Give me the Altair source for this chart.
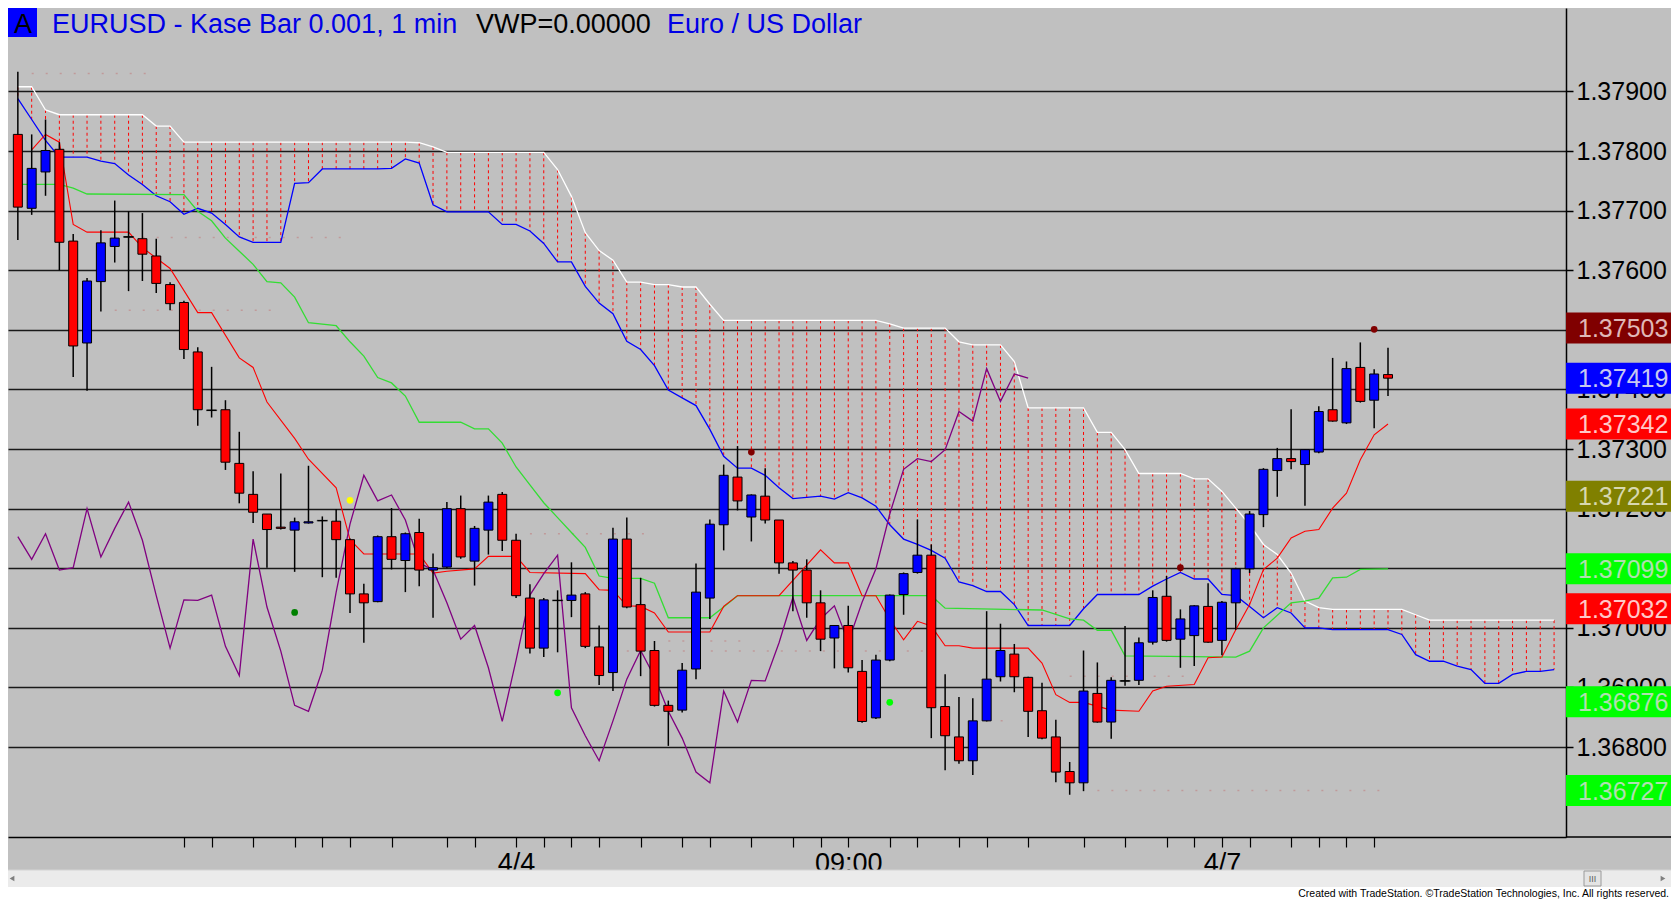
import altair as alt
import pandas as pd

# ---------------- data ----------------
opens = [1.37828,1.37704,1.37765,1.37803,1.37649,1.37478,1.37581,1.37640,1.37656,1.37653,
 1.37624,1.37576,1.37546,1.37463,1.37365,1.37366,1.37276,1.37224,1.37191,1.37169,
 1.37164,1.37176,1.37180,1.37179,1.37148,1.37057,1.37044,1.37153,1.37113,1.37160,
 1.37097,1.37102,1.37200,1.37112,1.37164,1.37224,1.37147,1.37050,1.36966,1.37046,
 1.37046,1.37057,1.36968,1.36925,1.37149,1.37039,1.36962,1.36870,1.36862,1.36931,
 1.37050,1.37173,1.37253,1.37186,1.37221,1.37181,1.37109,1.37097,1.37042,1.36983,
 1.37004,1.36927,1.36849,1.36946,1.37056,1.37093,1.37122,1.36868,1.36817,1.36777,
 1.36844,1.36918,1.36956,1.36917,1.36861,1.36817,1.36759,1.36740,1.36890,1.36842,
 1.36911,1.36912,1.36976,1.37053,1.36981,1.36987,1.37036,1.36979,1.37042,1.37099,
 1.37190,1.37264,1.37284,1.37274,1.37295,1.37366,1.37344,1.37437,1.37382,1.37425]
highs = [1.37933,1.37828,1.37853,1.37815,1.37661,1.37587,1.37667,1.37717,1.37699,1.37696,
 1.37653,1.37580,1.37549,1.37471,1.37438,1.37382,1.37329,1.37263,1.37191,1.37259,
 1.37185,1.37272,1.37187,1.37199,1.37150,1.37074,1.37155,1.37201,1.37160,1.37183,
 1.37125,1.37211,1.37222,1.37171,1.37222,1.37228,1.37158,1.37073,1.37050,1.37063,
 1.37110,1.37060,1.37004,1.37168,1.37185,1.37084,1.36978,1.36878,1.36941,1.37108,
 1.37182,1.37274,1.37305,1.37224,1.37268,1.37181,1.37112,1.37115,1.37063,1.37004,
 1.37037,1.36946,1.36955,1.37056,1.37093,1.37182,1.37140,1.36922,1.36884,1.36882,
 1.37028,1.37007,1.36973,1.36918,1.36908,1.36846,1.36775,1.36962,1.36942,1.36917,
 1.37003,1.36984,1.37063,1.37087,1.37031,1.37038,1.37075,1.37045,1.37101,1.37196,
 1.37268,1.37302,1.37367,1.37300,1.37372,1.37453,1.37447,1.37479,1.37434,1.37470]
lows = [1.37651,1.37693,1.37725,1.37600,1.37421,1.37398,1.37531,1.37613,1.37565,1.37582,
 1.37562,1.37533,1.37451,1.37339,1.37353,1.37265,1.37209,1.37176,1.37101,1.37165,
 1.37094,1.37175,1.37085,1.37084,1.37025,1.36975,1.37043,1.37098,1.37060,1.37070,
 1.37017,1.37100,1.37116,1.37071,1.37123,1.37129,1.37050,1.36957,1.36951,1.36959,
 1.37018,1.36966,1.36904,1.36894,1.37033,1.36919,1.36868,1.36802,1.36858,1.36914,
 1.37015,1.37130,1.37197,1.37145,1.37175,1.37091,1.37028,1.37017,1.36961,1.36932,
 1.36925,1.36841,1.36847,1.36944,1.37022,1.37091,1.36815,1.36761,1.36772,1.36753,
 1.36843,1.36910,1.36892,1.36817,1.36813,1.36741,1.36720,1.36726,1.36841,1.36814,
 1.36903,1.36904,1.36972,1.36977,1.36933,1.36936,1.36975,1.36954,1.36997,1.37092,
 1.37169,1.37220,1.37266,1.37205,1.37293,1.37346,1.37342,1.37378,1.37335,1.37389]
closes = [1.37706,1.37771,1.37801,1.37647,1.37473,1.37582,1.37646,1.37654,1.37656,1.37627,
 1.37578,1.37544,1.37467,1.37366,1.37365,1.37278,1.37226,1.37194,1.37165,1.37167,
 1.37178,1.37178,1.37180,1.37148,1.37057,1.37042,1.37153,1.37115,1.37158,1.37097,
 1.37101,1.37200,1.37119,1.37167,1.37211,1.37147,1.37054,1.36966,1.37047,1.37046,
 1.37055,1.36969,1.36920,1.37149,1.37035,1.36961,1.36870,1.36860,1.36929,1.37060,
 1.37174,1.37256,1.37213,1.37223,1.37181,1.37109,1.37097,1.37042,1.36981,1.37004,
 1.36933,1.36843,1.36946,1.37055,1.37091,1.37122,1.36866,1.36819,1.36777,1.36844,
 1.36914,1.36962,1.36918,1.36860,1.36815,1.36758,1.36740,1.36894,1.36842,1.36912,
 1.36911,1.36975,1.37051,1.36979,1.37015,1.37037,1.36976,1.37043,1.37099,1.37191,
 1.37266,1.37284,1.37279,1.37299,1.37363,1.37347,1.37435,1.37380,1.37426,1.37419]

# cloud boundaries, one value per bar (0..111)
white_line = [1.37908,1.37908,1.37869,1.37861,1.37861,1.37861,1.37861,1.37861,1.37861,1.37861,
 1.37842,1.37842,1.37815,1.37815,1.37815,1.37815,1.37815,1.37815,1.37815,1.37815,
 1.37815,1.37815,1.37815,1.37815,1.37815,1.37815,1.37815,1.37815,1.37815,1.37814,
 1.37807,1.37798,1.37798,1.37798,1.37798,1.37798,1.37798,1.37798,1.37798,1.37769,
 1.37724,1.37663,1.37633,1.37617,1.37580,1.37580,1.37576,1.37576,1.37572,1.37572,
 1.37543,1.37516,1.37516,1.37516,1.37516,1.37516,1.37516,1.37516,1.37516,1.37516,
 1.37516,1.37516,1.37516,1.37510,1.37503,1.37503,1.37503,1.37503,1.37480,1.37475,
 1.37475,1.37475,1.37447,1.37369,1.37369,1.37369,1.37369,1.37369,1.37328,1.37328,
 1.37299,1.37259,1.37259,1.37259,1.37259,1.37250,1.37250,1.37229,1.37201,1.37173,
 1.37140,1.37123,1.37092,1.37045,1.37034,1.37031,1.37031,1.37031,1.37031,1.37031,
 1.37031,1.37022,1.37013,1.37013,1.37013,1.37013,1.37013,1.37013,1.37013,1.37013,
 1.37013,1.37013]
blue_line = [1.37888,1.37853,1.37818,1.37790,1.37790,1.37790,1.37783,1.37779,1.37760,1.37744,
 1.37725,1.37715,1.37694,1.37704,1.37696,1.37677,1.37656,1.37647,1.37647,1.37647,
 1.37746,1.37747,1.37770,1.37770,1.37770,1.37770,1.37770,1.37771,1.37787,1.37780,
 1.37710,1.37698,1.37698,1.37698,1.37698,1.37677,1.37677,1.37666,1.37645,1.37614,
 1.37614,1.37573,1.37545,1.37527,1.37481,1.37467,1.37440,1.37399,1.37386,1.37373,
 1.37333,1.37288,1.37268,1.37268,1.37256,1.37235,1.37217,1.37219,1.37221,1.37216,
 1.37227,1.37218,1.37204,1.37173,1.37149,1.37140,1.37130,1.37117,1.37077,1.37071,
 1.37061,1.37061,1.37039,1.37004,1.37004,1.37004,1.37004,1.37032,1.37056,1.37056,
 1.37056,1.37056,1.37070,1.37082,1.37093,1.37082,1.37082,1.37056,1.37054,1.37036,
 1.37017,1.37034,1.37025,1.37000,1.37000,1.36997,1.36997,1.36997,1.36997,1.36997,
 1.36989,1.36955,1.36944,1.36944,1.36936,1.36930,1.36907,1.36907,1.36922,1.36927,
 1.36927,1.36930]

# red line vertices
red_idx = [1,2,3,4,5,8,9,11,13,14,16,17,18,20,21,23,24,25,29,30,31,33,34,36,37,41,42,43,44,45,46,47,
 50,51,52,55,58,59,60,61,62,63,64,65,66,67,68,69,73,74,75,76,77,79,81,82,83,85,86,87,88,89,90,91,92,
 93,94,95,96,97,98,99]
red_val = [1.37802,1.37828,1.37815,1.37677,1.37664,1.37664,1.37638,1.37603,1.37529,1.37529,1.37453,
 1.37437,1.37379,1.37318,1.37283,1.37235,1.37148,1.37124,1.37124,1.37092,1.37095,1.37099,1.37120,
 1.37120,1.37093,1.37091,1.37064,1.37063,1.37037,1.37036,1.37025,1.36993,1.36993,1.37036,1.37054,
 1.37054,1.37131,1.37109,1.37109,1.37054,1.37054,1.37014,1.36980,1.37011,1.37003,1.36970,1.36970,
 1.36966,1.36966,1.36941,1.36888,1.36875,1.36875,1.36862,1.36860,1.36894,1.36902,1.36905,1.36950,
 1.36951,1.36997,1.37039,1.37098,1.37117,1.37151,1.37162,1.37165,1.37201,1.37226,1.37282,1.37324,
 1.37342]

# green line vertices
green_idx = [0,3,4,5,12,13,14,15,16,17,18,19,20,21,23,24,25,26,27,28,29,32,33,34,35,36,37,38,39,40,
 41,42,43,45,46,47,50,51,52,66,67,74,76,77,78,79,80,88,89,90,92,93,94,95,96,97,99]
green_val = [1.37744,1.37744,1.37738,1.37728,1.37727,1.37699,1.37683,1.37654,1.37632,1.37610,1.37581,
 1.37579,1.37555,1.37512,1.37507,1.37480,1.37456,1.37420,1.37411,1.37389,1.37345,1.37345,1.37334,
 1.37334,1.37310,1.37270,1.37240,1.37210,1.37185,1.37160,1.37135,1.37087,1.37083,1.37083,1.37075,
 1.37017,1.37017,1.37035,1.37054,1.37054,1.37033,1.37030,1.37015,1.37013,1.36996,1.36996,1.36953,
 1.36951,1.36961,1.37000,1.37042,1.37045,1.37050,1.37084,1.37085,1.37098,1.37099]

# lagging line = closes plotted 26 bars back
lag = 26

# marker dots
dot_idx = [20, 24, 39, 53, 63, 84, 98]
dot_val = [1.37026, 1.37214, 1.36891, 1.37295, 1.36875, 1.37101, 1.37501]
dot_col = ["#008000", "#ffff00", "#00ff00", "#800000", "#00ff00", "#800000", "#800000"]

# faint dotted levels
seg_start = [1, 7, 7, 37, 47, 44, 76, 70, 78]
seg_end = [10, 24, 19, 46, 53, 66, 85, 72, 99]
seg_price = [1.37930, 1.37655, 1.37533, 1.37158, 1.36978, 1.36961, 1.36919, 1.36844, 1.36727]

# right-hand price flags
flag_price = [1.37503, 1.37419, 1.37342, 1.37221, 1.37099, 1.37032, 1.36876, 1.36727]
flag_bg = ["#800000", "#0000ff", "#ff0000", "#808000", "#00ff00", "#ff0000", "#00ff00", "#00ff00"]
flag_fg = ["#e0b8b8", "#c8c8f0", "#ffc8c8", "#d8d8b0", "#b0e0b0", "#ffc8c8", "#b0e0b0", "#b0e0b0"]

x_ticks = [12,14,17,20,22,24,27,31,33,36,38,40,42,45,48,50,53,56,58,60,63,65,68,70,73,77,80,83,85,87,89,92,94,96,98]
y_ticks = [1.368,1.369,1.370,1.371,1.372,1.373,1.374,1.375,1.376,1.377,1.378,1.379]

# ---------------- tables ----------------
n = len(opens)
candles = pd.DataFrame({"i": list(range(n)), "o": opens, "h": highs, "l": lows, "c": closes})
candles["dir"] = ["up" if c > o else ("down" if c < o else "doji") for o, c in zip(opens, closes)]
cloud = pd.DataFrame({"i": list(range(len(white_line))), "w": white_line, "b": blue_line})
red_df = pd.DataFrame({"i": red_idx, "v": red_val})
green_df = pd.DataFrame({"i": green_idx, "v": green_val})
lag_df = pd.DataFrame({"i": list(range(n - lag)), "v": closes[lag:]})
dots_df = pd.DataFrame({"i": dot_idx, "v": dot_val, "col": dot_col})
segs_df = pd.DataFrame({"s": seg_start, "e": seg_end, "p": seg_price})
flags_df = pd.DataFrame({"p": flag_price, "bg": flag_bg, "fg": flag_fg,
                         "label": [f"{p:.5f}" for p in flag_price]})
one = pd.DataFrame({"a": [0]})

# ---------------- layout ----------------
W, H = 1558, 829
FONT = "Liberation Sans"
xs = alt.Scale(domain=[-0.35, 111.5], nice=False, zero=False)
ys = alt.Scale(domain=[1.366491, 1.380401], nice=False, zero=False)

label_expr = "datum.value == 36 ? '4/4' : datum.value == 60 ? '09:00' : datum.value == 87 ? '4/7' : ''"
x_axis = alt.Axis(values=x_ticks, labelExpr=label_expr, tickSize=10, tickColor="black", tickWidth=1.2,
                  domainColor="black", domainWidth=1.5, labelFontSize=27, labelFont=FONT,
                  labelColor="black", labelPadding=3, grid=False, title=None, labelFlush=False,
                  labelOverlap=False)
y_axis = alt.Axis(orient="right", values=y_ticks, format=".5f", tickSize=7, tickColor="black",
                  tickWidth=1.5, domainColor="black", domainWidth=1.5, labelFontSize=25,
                  labelFont=FONT, labelColor="black", labelPadding=3, grid=True,
                  gridColor="#1a1a1a", gridWidth=1.3, title=None, labelOverlap=False,
                  labelFlush=False)


def X(f):
    return alt.X(f, type="quantitative", scale=xs, axis=x_axis)


def Y(f):
    return alt.Y(f, type="quantitative", scale=ys, axis=y_axis)


hatch = alt.Chart(cloud).mark_rule(color="#ff0000", strokeDash=[3, 3], strokeWidth=1, clip=True).encode(
    x=X("i"), y=Y("w"), y2="b")
dotted = alt.Chart(segs_df).mark_rule(color="#c09a9a", strokeDash=[2, 12], strokeWidth=1.5, clip=True).encode(
    x=X("s"), x2="e", y=Y("p"))
white = alt.Chart(cloud).mark_line(color="#ffffff", strokeWidth=1.3, clip=True).encode(x=X("i"), y=Y("w"))
blue = alt.Chart(cloud).mark_line(color="#0000ff", strokeWidth=1.3, clip=True).encode(x=X("i"), y=Y("b"))
green = alt.Chart(green_df).mark_line(color="#33dd33", strokeWidth=1.3, clip=True).encode(x=X("i"), y=Y("v"))
red = alt.Chart(red_df).mark_line(color="#ff0000", strokeWidth=1.1, clip=True).encode(x=X("i"), y=Y("v"))
purple = alt.Chart(lag_df).mark_line(color="#800080", strokeWidth=1.3, clip=True).encode(x=X("i"), y=Y("v"))

wicks = alt.Chart(candles).mark_rule(color="black", strokeWidth=1.5, clip=True).encode(
    x=X("i"), y=Y("l"), y2="h")
bodies = alt.Chart(candles).mark_bar(size=9, stroke="black", strokeWidth=1, clip=True).encode(
    x=X("i"), y=Y("o"), y2="c",
    color=alt.Color("dir:N", scale=alt.Scale(domain=["up", "down", "doji"],
                                             range=["#0000ff", "#ff0000", "#000000"]), legend=None))
doji = alt.Chart(candles).transform_filter("datum.dir == 'doji'").mark_tick(
    orient="horizontal", size=11, thickness=1.5, color="black", clip=True).encode(x=X("i"), y=Y("o"))
dots = alt.Chart(dots_df).mark_circle(size=45, opacity=1, clip=True).encode(
    x=X("i"), y=Y("v"), color=alt.Color("col:N", scale=None))

flag_boxes = alt.Chart(flags_df).mark_tick(orient="horizontal", size=111, thickness=31, opacity=1).encode(
    x=alt.value(W + 55.5), y=Y("p"), color=alt.Color("bg:N", scale=None))
flag_text = alt.Chart(flags_df).mark_text(align="left", baseline="middle", fontSize=25, font=FONT, dy=1).encode(
    x=alt.value(W + 12), y=Y("p"), text="label:N", color=alt.Color("fg:N", scale=None))

# header
a_box = alt.Chart(one).mark_rect(color="#0000ff").encode(
    x=alt.value(0), x2=alt.value(29), y=alt.value(0), y2=alt.value(29))
a_text = alt.Chart(one).mark_text(text="A", fontSize=27, font=FONT, color="black", align="center",
                                  baseline="alphabetic").encode(x=alt.value(15), y=alt.value(25))
t1 = alt.Chart(one).mark_text(text="EURUSD - Kase Bar 0.001, 1 min", fontSize=27, font=FONT,
                              color="#0000e6", align="left", baseline="alphabetic").encode(
    x=alt.value(44), y=alt.value(25))
t2 = alt.Chart(one).mark_text(text="VWP=0.00000", fontSize=27, font=FONT, color="black",
                              align="left", baseline="alphabetic").encode(x=alt.value(468), y=alt.value(25))
t3 = alt.Chart(one).mark_text(text="Euro / US Dollar", fontSize=27, font=FONT, color="#0000e6",
                              align="left", baseline="alphabetic").encode(x=alt.value(659), y=alt.value(25))

# bottom frame pieces
axis_ext = alt.Chart(one).mark_rule(color="black", strokeWidth=1.5).encode(
    x=alt.value(W), x2=alt.value(W + 105), y=alt.value(H))
scroll = alt.Chart(one).mark_rect(color="#ebebeb").encode(
    x=alt.value(0), x2=alt.value(W + 105), y=alt.value(862), y2=alt.value(879))
scroll_top = alt.Chart(one).mark_rule(color="#d4d4d4", strokeWidth=1).encode(
    x=alt.value(0), x2=alt.value(W + 105), y=alt.value(862))
white_band = alt.Chart(one).mark_rect(color="#ffffff").encode(
    x=alt.value(0), x2=alt.value(W + 105), y=alt.value(879), y2=alt.value(900))
arr_l = alt.Chart(one).mark_point(shape="triangle-left", filled=True, size=30, color="#505050").encode(
    x=alt.value(4), y=alt.value(870.5))
arr_r = alt.Chart(one).mark_point(shape="triangle-right", filled=True, size=30, color="#505050").encode(
    x=alt.value(W + 97), y=alt.value(870.5))
thumb = alt.Chart(one).mark_rect(color="#e4e4e4", stroke="#9a9a9a", strokeWidth=1).encode(
    x=alt.value(1576), x2=alt.value(1593), y=alt.value(863), y2=alt.value(878))
thumb_t = alt.Chart(one).mark_text(text="III", fontSize=9, font=FONT, color="#606060",
                                   align="center", baseline="middle").encode(
    x=alt.value(1584.5), y=alt.value(870.5))
footer = alt.Chart(one).mark_text(
    text="Created with TradeStation. \u00a9TradeStation Technologies, Inc. All rights reserved.",
    fontSize=10.5, font=FONT, color="black", align="right", baseline="alphabetic").encode(
    x=alt.value(W + 103), y=alt.value(889))

chart = alt.layer(
    hatch, dotted, white, blue, green, red, purple, wicks, bodies, doji, dots,
    flag_boxes, flag_text, a_box, a_text, t1, t2, t3,
    axis_ext, scroll, scroll_top, white_band, arr_l, arr_r, thumb, thumb_t, footer
).properties(
    width=W, height=H,
    padding={"left": 0, "top": 0, "right": 105, "bottom": 64},
    autosize=alt.AutoSizeParams(type="none"),
    background="#c0c0c0",
).configure_view(stroke=None, fill="#c0c0c0")

chart.save("out.html", embed_options={"renderer": "svg", "actions": False})
